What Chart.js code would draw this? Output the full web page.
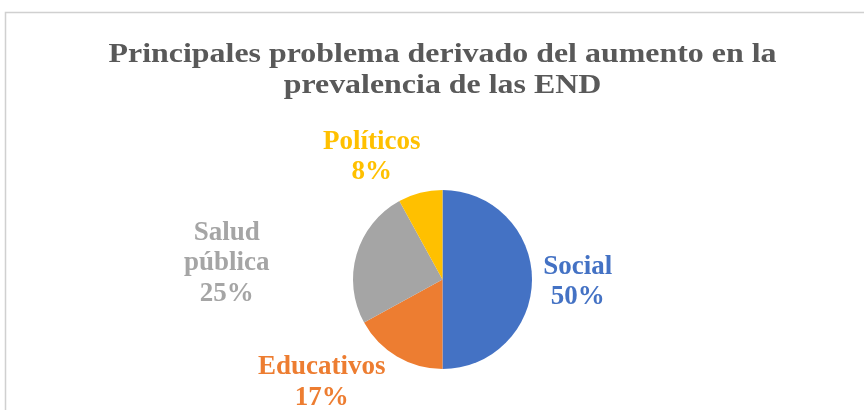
<!DOCTYPE html>
<html>
<head>
<meta charset="utf-8">
<script src="https://cdn.jsdelivr.net/npm/chart.js@4/dist/chart.umd.min.js"></script>
<style>
  html, body { margin: 0; padding: 0; background: #fff; }
  canvas { display: block; }
</style>
</head>
<body>
<canvas id="pieChart" width="864" height="410"></canvas>
<script>
// Data
const categories = ['Social', 'Educativos', 'Salud pública', 'Políticos'];
const labelLines = [['Social'], ['Educativos'], ['Salud', 'pública'], ['Políticos']];
const values = [50, 17, 25, 8];
const colors = ['#4472C4', '#ED7D31', '#A5A5A5', '#FFC000'];
const titleLines = ['Principales problema derivado del aumento en la', 'prevalencia de las END'];

// label anchor offsets, in units of the pie radius (layout only)
const labelOffsets = [[1.51, 0.03], [-1.35, 1.15], [-2.41, -0.18], [-0.79, -1.37]];

const serif = '"Liberation Serif", "Times New Roman", serif';

// light frame at top and left (the reference is a cropped Excel chart)
const framePlugin = {
  id: 'frame',
  beforeDraw(chart) {
    const ctx = chart.ctx;
    ctx.save();
    ctx.strokeStyle = '#d0d0d0';
    ctx.lineWidth = 1.5;
    ctx.beginPath();
    ctx.moveTo(5.5, chart.height);
    ctx.lineTo(5.5, 12.5);
    ctx.lineTo(chart.width, 12.5);
    ctx.stroke();
    ctx.restore();
  }
};

// title is drawn slightly widened, like the stretched Excel export
const wideTitle = {
  id: 'wideTitle',
  afterDraw(chart) {
    const ctx = chart.ctx;
    const cx = (chart.chartArea.left + chart.chartArea.right) / 2;
    ctx.save();
    ctx.font = 'bold 28px ' + serif;
    ctx.fillStyle = '#595959';
    ctx.textAlign = 'center';
    ctx.textBaseline = 'alphabetic';
    ctx.translate(cx, 0);
    ctx.scale(1.14, 1);
    titleLines.forEach((t, i) => ctx.fillText(t, 0, 62 + i * 31));
    ctx.restore();
  }
};

const sliceLabels = {
  id: 'sliceLabels',
  afterDatasetsDraw(chart) {
    const ctx = chart.ctx;
    const meta = chart.getDatasetMeta(0);
    const total = values.reduce((a, b) => a + b, 0);
    ctx.save();
    ctx.font = 'bold 27px ' + serif;
    ctx.textAlign = 'center';
    ctx.textBaseline = 'middle';
    meta.data.forEach((arc, i) => {
      const r = arc.outerRadius;
      const cx = arc.x + labelOffsets[i][0] * r;
      const cy = arc.y + labelOffsets[i][1] * r;
      const lines = labelLines[i].concat([Math.round(values[i] / total * 100) + '%']);
      const lh = 30.5;
      const y0 = cy - (lines.length - 1) * lh / 2;
      ctx.fillStyle = colors[i];
      lines.forEach((t, j) => ctx.fillText(t, cx, y0 + j * lh));
    });
    ctx.restore();
  }
};

const ctx = document.getElementById('pieChart').getContext('2d');
new Chart(ctx, {
  type: 'pie',
  data: {
    labels: categories,
    datasets: [{
      data: values,
      backgroundColor: colors,
      borderWidth: 0
    }]
  },
  options: {
    responsive: false,
    animation: false,
    layout: {
      padding: { top: 190, bottom: 41, left: 21, right: 0 }
    },
    plugins: {
      legend: { display: false },
      tooltip: { enabled: false },
      title: { display: false }
    }
  },
  plugins: [framePlugin, sliceLabels, wideTitle]
});
</script>
</body>
</html>
